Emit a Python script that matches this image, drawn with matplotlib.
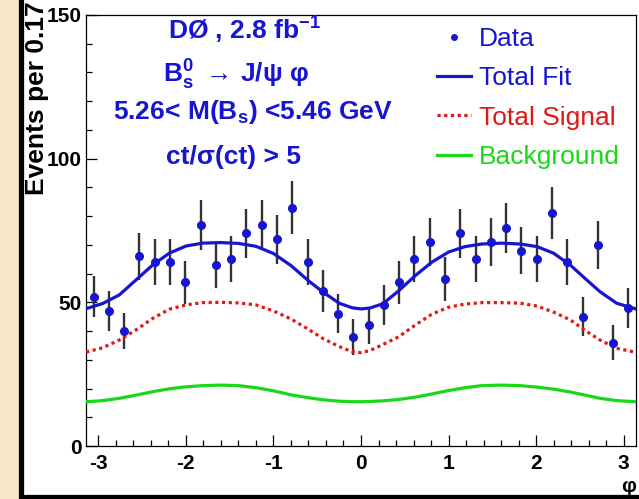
import numpy as np
import matplotlib
matplotlib.use("Agg")
import matplotlib.pyplot as plt
from matplotlib.lines import Line2D
from matplotlib.patches import Rectangle

plt.rcParams["font.family"] = ["Liberation Sans", "DejaVu Sans"]
plt.rcParams["mathtext.fontset"] = "custom"
plt.rcParams["mathtext.rm"] = "Liberation Sans:bold"
plt.rcParams["mathtext.it"] = "Liberation Sans:bold"
plt.rcParams["mathtext.bf"] = "Liberation Sans:bold"
plt.rcParams["mathtext.sf"] = "Liberation Sans:bold"
plt.rcParams["axes.unicode_minus"] = False

# colours
C_BLUE = "#1616d0"
C_RED = "#e01818"
C_GREEN = "#18d818"
C_BAR = "#333333"
C_PAPER = "#f6e7c9"

# --- data: 36 bins in phi, events per bin ---
n_bins = 36
counts = [52, 47, 40, 66, 64, 64, 57, 77, 63, 65, 74, 77, 72, 83, 64, 54, 46, 38,
          42, 49, 57, 65, 71, 58, 74, 65, 71, 76, 68, 65, 81, 64, 45, 70, 36, 48]

# fit curves
fit_phi = [-3.14, -2.95, -2.76, -2.57, -2.38, -2.19, -2.0, -1.81, -1.6, -1.4, -1.2,
           -1.0, -0.8, -0.6, -0.44, -0.25, -0.1, 0.0, 0.1, 0.25, 0.43, 0.62, 0.81,
           1.0, 1.19, 1.38, 1.6, 1.82, 2.01, 2.2, 2.39, 2.56, 2.73, 2.92, 3.14]
total_fit = [47.8, 49.6, 52.6, 57.8, 63.0, 67.1, 69.6, 70.6, 70.8, 70.5, 69.5,
             67.0, 62.8, 57.5, 53.7, 49.7, 48.1, 47.7, 48.0, 49.5, 54.0, 59.3, 64.0,
             67.5, 69.4, 70.3, 70.6, 70.3, 69.4, 67.1, 63.0, 58.3, 53.7, 49.7, 47.7]
total_signal = [32.7, 34.2, 36.9, 40.4, 44.4, 47.6, 49.1, 49.9, 50.0, 49.8, 49.1,
                47.0, 44.2, 40.6, 37.5, 34.6, 32.8, 32.5, 33.2, 35.3, 38.0, 42.1, 45.9,
                48.3, 49.4, 49.9, 49.9, 49.7, 48.7, 46.6, 43.9, 40.2, 36.9, 34.0, 32.6]
background = [15.4, 15.8, 16.6, 17.7, 18.9, 19.9, 20.6, 21.0, 21.2, 21.0, 20.3,
              19.2, 17.8, 16.8, 16.1, 15.6, 15.4, 15.4, 15.5, 15.7, 16.2, 17.0, 18.1,
              19.3, 20.3, 21.0, 21.2, 21.0, 20.5, 19.8, 18.8, 17.7, 16.6, 15.8, 15.4]

x_ticks = [-3, -2, -1, 0, 1, 2, 3]
y_ticks = [0, 50, 100, 150]

label_lines = [r"DØ , 2.8 fb$^{-1}$",
               r"B$_s^0$ $\rightarrow\,$J/ψ φ",
               r"5.26< M(B$_s$) <5.46 GeV",
               "ct/σ(ct) > 5"]
label_pos = [(245, 30), (236, 75), (253, 112), (234, 157)]  # centre x, centre y in px


W, H = 639, 499
fig = plt.figure(figsize=(W / 100, H / 100), dpi=100, facecolor=C_PAPER)
# white page with black border, like the slide
fig.add_artist(Rectangle((20.5 / W, 2.5 / H), 2, 2, transform=fig.transFigure,
                         facecolor="white", edgecolor="black", lw=3.8, zorder=0))

ax = fig.add_axes([86 / W, (H - 446) / H, 550 / W, 431 / H])
ax.set_facecolor("none")

edges = np.linspace(-np.pi, np.pi, n_bins + 1)
centers = 0.5 * (edges[1:] + edges[:-1])
y = np.array(counts, dtype=float)

ax.errorbar(centers, y, yerr=np.sqrt(y), fmt="none", ecolor=C_BAR, elinewidth=1.7,
            capsize=0, zorder=2)
ax.plot(fit_phi, background, color=C_GREEN, lw=2.3, zorder=3)
ax.plot(fit_phi, total_signal, color=C_RED, lw=2.3, ls=(0, (1, 1.1)), zorder=3)
ax.plot(fit_phi, total_fit, color=C_BLUE, lw=2.3, zorder=4)
ax.plot(centers, y, "o", color=C_BLUE, ms=5.5, mec=C_BLUE, zorder=5)

ax.set_xlim(-np.pi, np.pi)
ax.set_ylim(0, 150)
ax.set_xticks(x_ticks)
ax.set_xticks(np.arange(-3.0, 3.01, 0.2), minor=True)
ax.set_yticks(y_ticks)
ax.set_yticks(np.arange(0, 151, 10), minor=True)
ax.tick_params(which="both", direction="in", top=False, right=False, width=0.9)
ax.tick_params(which="major", length=8, labelsize=15)
ax.tick_params(axis="x", which="major", pad=6)
ax.tick_params(axis="y", which="major", pad=3)
ax.tick_params(which="minor", length=4.5)
for lab in ax.get_xticklabels() + ax.get_yticklabels():
    lab.set_fontweight("bold")
for sp in ax.spines.values():
    sp.set_linewidth(0.9)

fig.text(37 / W, 1 - 1 / H, "Events per 0.17", rotation=90, ha="center", va="top",
         fontsize=19, fontweight="bold")
fig.text(629 / W, 1 - 487 / H, "φ", ha="center", va="center", fontsize=15,
         fontweight="bold")

for txt, (px, py) in zip(label_lines, label_pos):
    fig.text(px / W, 1 - py / H, txt, ha="center", va="center", fontsize=19,
             fontweight="bold", color=C_BLUE)

handles = [Line2D([], [], ls="none", marker="o", ms=4, color=C_BLUE),
           Line2D([], [], color=C_BLUE, lw=2.3),
           Line2D([], [], color=C_RED, lw=2.3, ls=(0, (1, 1.1))),
           Line2D([], [], color=C_GREEN, lw=2.3)]
names = ["Data", "Total Fit", "Total Signal", "Background"]
leg = ax.legend(handles, names, loc="upper left",
                bbox_to_anchor=((437 - 86) / 550, (446 - 27) / 431),
                frameon=False, fontsize=19, handlelength=1.3, handletextpad=0.3,
                labelspacing=0.58, borderpad=0, borderaxespad=0)
for t, c in zip(leg.get_texts(), [C_BLUE, C_BLUE, C_RED, C_GREEN]):
    t.set_color(c)

fig.savefig("out.png", dpi=100, facecolor=C_PAPER)
